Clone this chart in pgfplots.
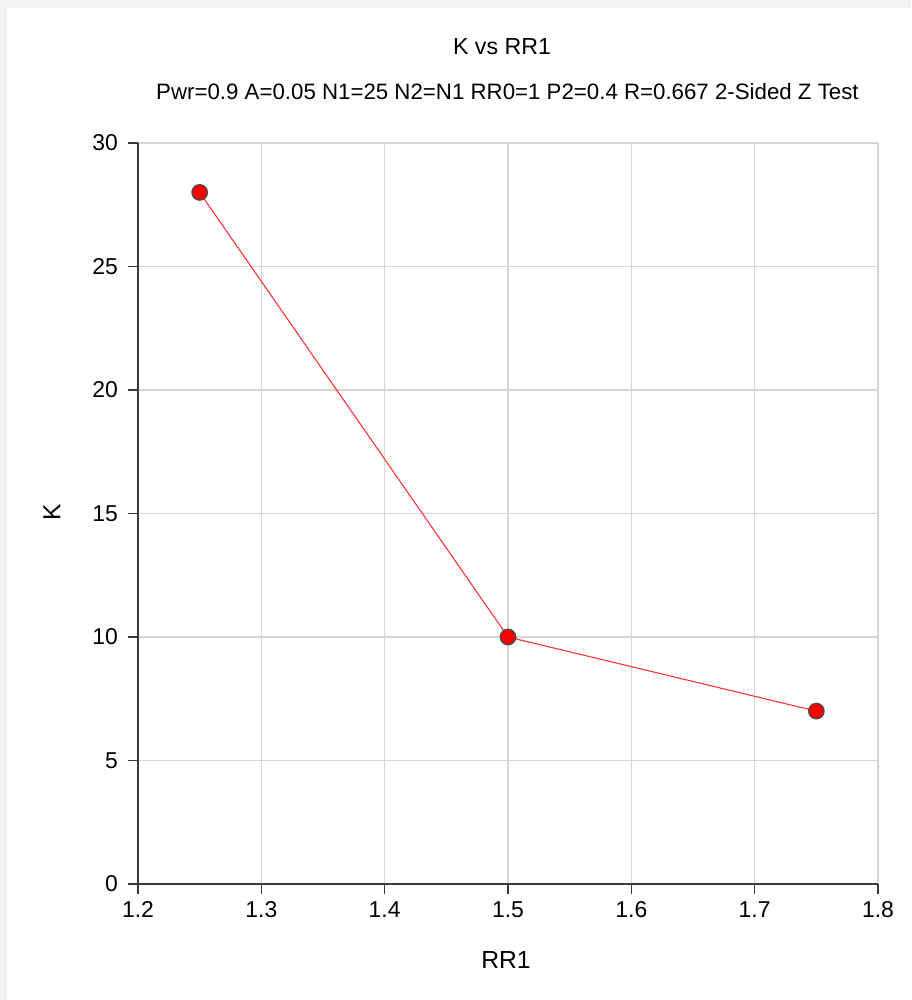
\documentclass[border=0pt]{standalone}
\usepackage{pgfplots}
\pgfplotsset{compat=1.18}
\usepackage{fontspec}
\setmainfont{Liberation Sans}
\definecolor{bggray}{HTML}{F2F2F2}
\definecolor{gridgray}{HTML}{D6D6D6}
\definecolor{axisgray}{HTML}{3A3A3A}
\definecolor{linered}{HTML}{FF3030}
\begin{document}
\begin{tikzpicture}
\fill[bggray] (0pt,0pt) rectangle (683.25pt,750pt);
\fill[white] (5.25pt,0pt) rectangle (683.25pt,744pt);
\begin{axis}[
  at={(103.5pt,87pt)}, anchor=south west,
  scale only axis, width=555pt, height=555.75pt,
  xmin=1.2, xmax=1.8, ymin=0, ymax=30,
  xtick={1.2,1.3,1.4,1.5,1.6,1.7,1.8},
  ytick={0,5,10,15,20,25,30},
  xticklabels={1.2,1.3,1.4,1.5,1.6,1.7,1.8},
  yticklabels={0,5,10,15,20,25,30},
  axis x line*=bottom, axis y line*=left,
  axis line style={draw=axisgray, line width=1.2pt, -},
  tick align=outside, major tick length=7.5pt,
  tick style={draw=axisgray, line width=1.2pt},
  grid=major, grid style={draw=gridgray, line width=0.9pt},
  tick label style={font=\fontsize{17.2}{20}\selectfont, text=black},
  xticklabel style={yshift=-2pt},
  yticklabel style={xshift=-4pt},
  clip=false,
]
\addplot[color=linered, line width=0.8pt, mark=*, mark size=5.8pt,
  mark options={fill=red, draw=black!70, line width=1pt}]
  coordinates {(1.25,28) (1.5,10) (1.75,7)};
\end{axis}
\node[font=\fontsize{17.4}{20}\selectfont] at (376.5pt,714.75pt) {K vs RR1};
\node[font=\fontsize{16.7}{19}\selectfont] at (380.6pt,681pt) {Pwr=0.9 A=0.05 N1=25 N2=N1 RR0=1 P2=0.4 R=0.667 2-Sided Z Test};
\node[font=\fontsize{18.5}{21}\selectfont] at (379.5pt,30pt) {RR1};
\node[font=\fontsize{18.5}{21}\selectfont, rotate=90] at (39pt,366pt) {K};
\end{tikzpicture}
\end{document}
